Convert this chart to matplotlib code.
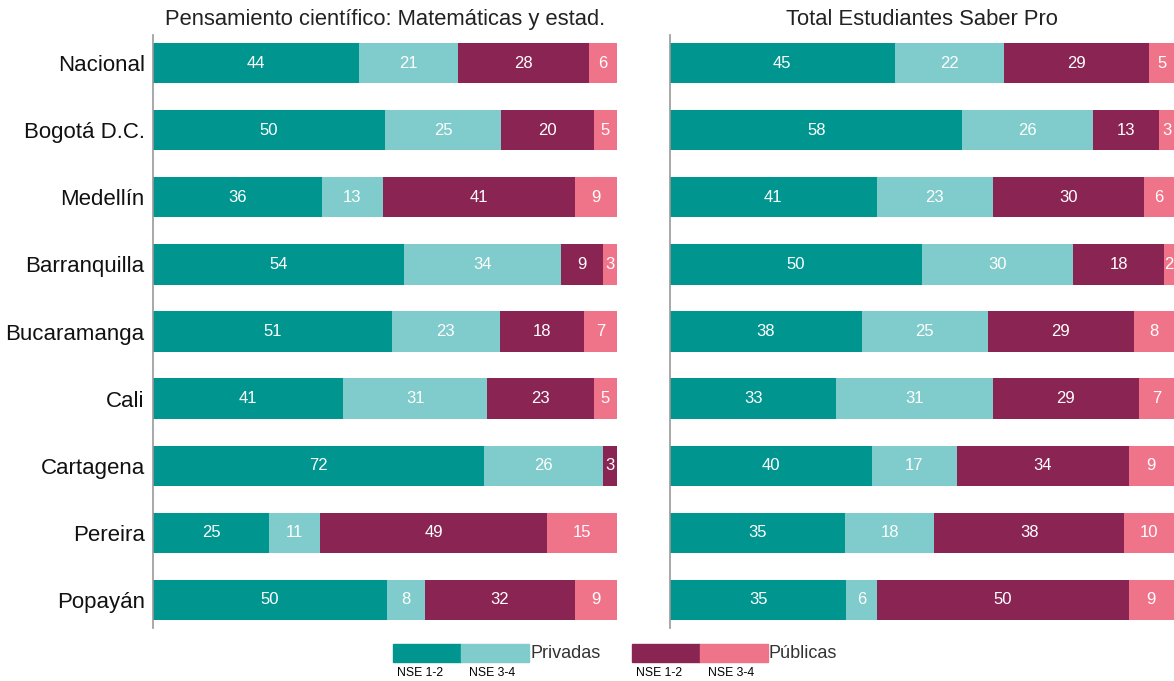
import numpy as np
import matplotlib.pyplot as plt
from matplotlib.patches import Rectangle

plt.rcParams['font.family'] = ['Liberation Sans', 'DejaVu Sans']

ciudades = ['Nacional', 'Bogotá D.C.', 'Medellín', 'Barranquilla', 'Bucaramanga',
            'Cali', 'Cartagena', 'Pereira', 'Popayán']

# Pensamiento cientifico: privadas NSE 1-2, privadas NSE 3-4, publicas NSE 1-2, publicas NSE 3-4
mat_priv_12 = [44, 50, 36, 54, 51, 41, 72, 25, 50]
mat_priv_34 = [21, 25, 13, 34, 23, 31, 26, 11, 8]
mat_pub_12 = [28, 20, 41, 9, 18, 23, 3, 49, 32]
mat_pub_34 = [6, 5, 9, 3, 7, 5, 0, 15, 9]

# Total estudiantes Saber Pro
tot_priv_12 = [45, 58, 41, 50, 38, 33, 40, 35, 35]
tot_priv_34 = [22, 26, 23, 30, 25, 31, 17, 18, 6]
tot_pub_12 = [29, 13, 30, 18, 29, 29, 34, 38, 50]
tot_pub_34 = [5, 3, 6, 2, 8, 7, 9, 10, 9]

colores = ['#00968f', '#80cbcb', '#8a2553', '#f07489']

fig = plt.figure(figsize=(11.74, 6.81), dpi=100)
ax1 = fig.add_axes([0.1303, 0.0778, 0.3952, 0.8708])
ax2 = fig.add_axes([0.5707, 0.0778, 0.4293, 0.8708])


def dibujar(ax, series, titulo):
    y = np.arange(len(ciudades))
    datos = np.array(series, dtype=float)
    # las etiquetas son redondeadas; cada barra se lleva al 100 %
    anchos = datos / datos.sum(axis=0) * 100
    izq = np.zeros(len(ciudades))
    for vals, w, col in zip(datos, anchos, colores):
        ax.barh(y, w, left=izq, height=0.6, color=col, edgecolor='none')
        for yi, l, wi, v in zip(y, izq, w, vals):
            if v > 0:
                ax.text(l + wi / 2, yi, f'{int(v)}', ha='center', va='center',
                        color='white', fontsize=12, clip_on=True)
        izq += w
    ax.set_xlim(0, 100)
    ax.set_ylim(len(ciudades) - 0.58, -0.42)
    for s in ['top', 'right', 'bottom']:
        ax.spines[s].set_visible(False)
    ax.spines['left'].set_color('#999999')
    ax.spines['left'].set_linewidth(1.2)
    ax.set_xticks([])
    ax.tick_params(axis='y', length=0, pad=6)
    ax.set_title(titulo, fontsize=15.8, color='#222222', pad=7)


dibujar(ax1, [mat_priv_12, mat_priv_34, mat_pub_12, mat_pub_34],
        'Pensamiento científico: Matemáticas y estad.')
dibujar(ax2, [tot_priv_12, tot_priv_34, tot_pub_12, tot_pub_34],
        'Total Estudiantes Saber Pro')

ax1.set_yticks(np.arange(len(ciudades)))
ax1.set_yticklabels(ciudades, fontsize=16, color='#111111')
ax2.set_yticks([])

# leyenda
W, H = 1174, 681
grupos = [(393, colores[0], colores[1], 'Privadas'), (632, colores[2], colores[3], 'Públicas')]
for x0, c1, c2, nombre in grupos:
    fig.patches.append(Rectangle((x0 / W, 1 - 662 / H), 68 / W, 18 / H, color=c1,
                                 transform=fig.transFigure))
    fig.patches.append(Rectangle(((x0 + 68) / W, 1 - 662 / H), 68 / W, 18 / H, color=c2,
                                 transform=fig.transFigure))
    fig.text((x0 + 137) / W, 1 - 653 / H, nombre, fontsize=13, va='center', ha='left',
             color='#333333')
    fig.text((x0 + 27) / W, 1 - 673 / H, 'NSE 1-2', fontsize=8.8, va='center', ha='center')
    fig.text((x0 + 99) / W, 1 - 673 / H, 'NSE 3-4', fontsize=8.8, va='center', ha='center')

fig.savefig('out.png', dpi=100)
